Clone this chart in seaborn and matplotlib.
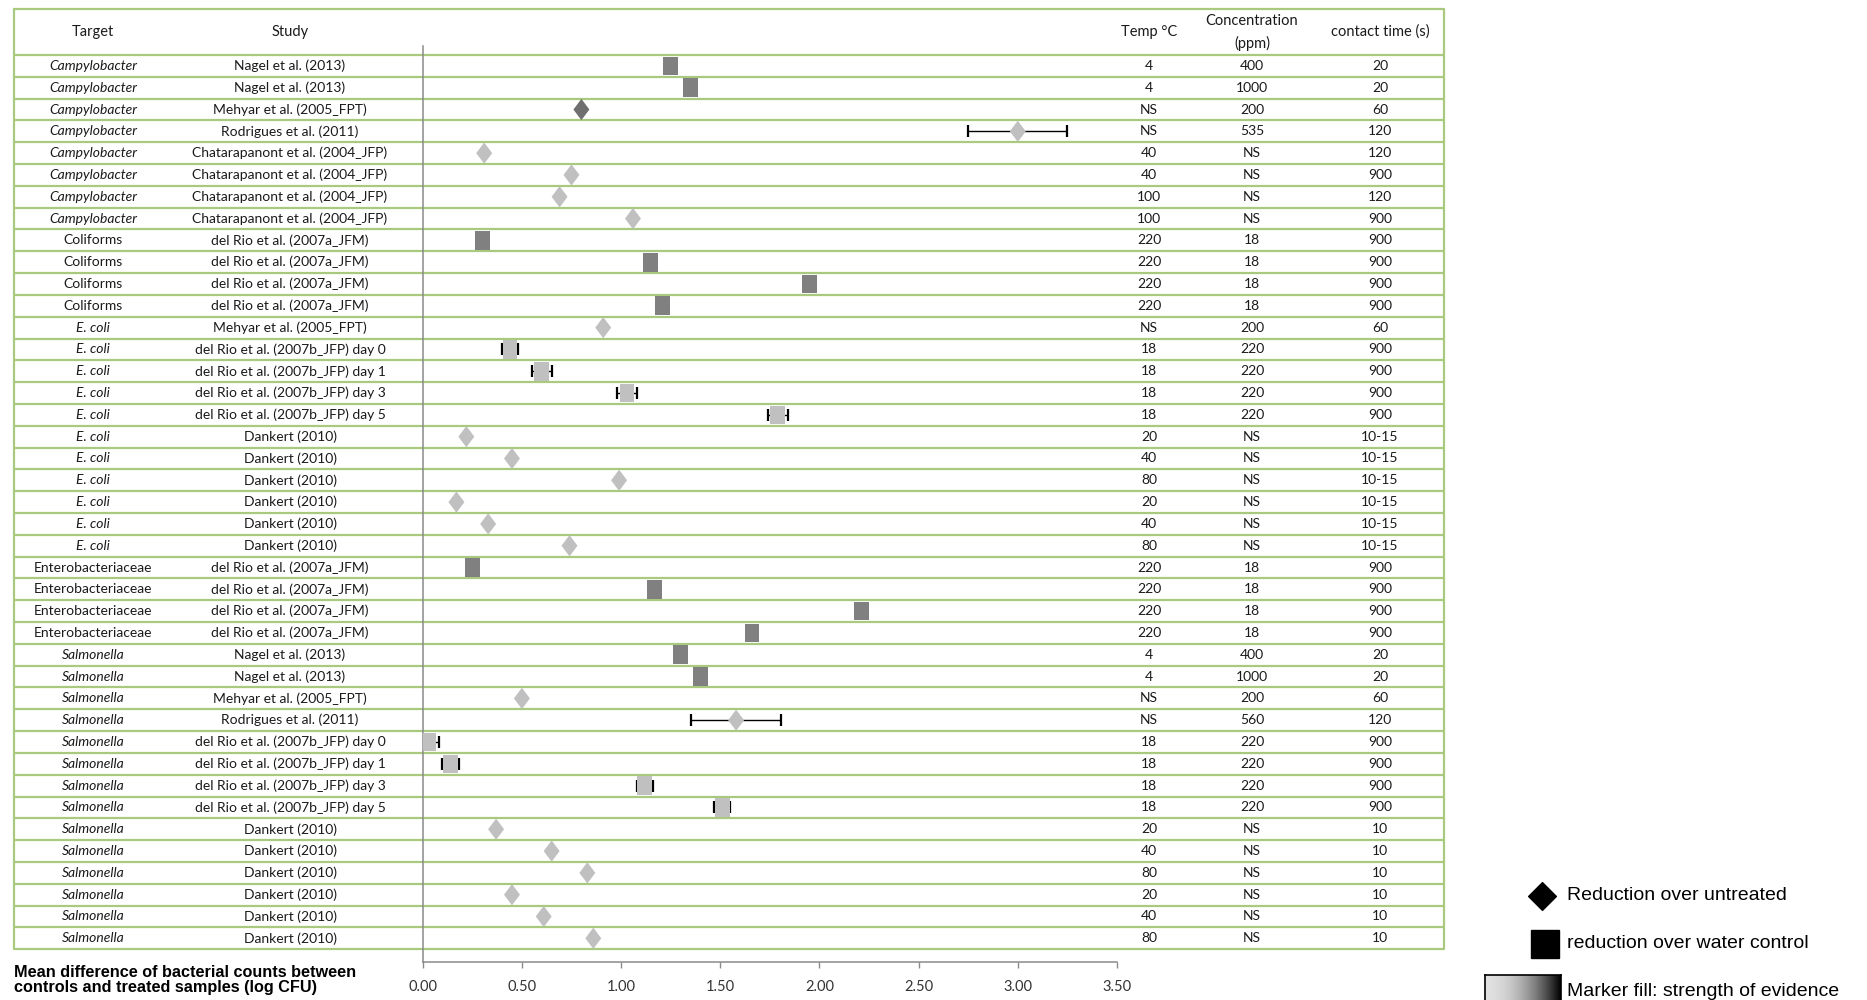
import numpy as np
import pandas as pd
import matplotlib
matplotlib.use("Agg")
import matplotlib.pyplot as plt
import seaborn as sns
from matplotlib.path import Path
from matplotlib import transforms, font_manager

# ---- data -------------------------------------------------------------
targets = (["Campylobacter"] * 8 + ["Coliforms"] * 4 + ["E. coli"] * 11
           + ["Enterobacteriaceae"] * 4 + ["Salmonella"] * 14)

studies = (
    ["Nagel et al. (2013)", "Nagel et al. (2013)", "Mehyar et al. (2005_FPT)",
     "Rodrigues et al. (2011)"]
    + ["Chatarapanont et al. (2004_JFP)"] * 4
    + ["del Rio et al. (2007a_JFM)"] * 4
    + ["Mehyar et al. (2005_FPT)"]
    + ["del Rio et al. (2007b_JFP) day 0", "del Rio et al. (2007b_JFP) day 1",
       "del Rio et al. (2007b_JFP) day 3", "del Rio et al. (2007b_JFP) day 5"]
    + ["Dankert (2010)"] * 6
    + ["del Rio et al. (2007a_JFM)"] * 4
    + ["Nagel et al. (2013)", "Nagel et al. (2013)", "Mehyar et al. (2005_FPT)",
       "Rodrigues et al. (2011)"]
    + ["del Rio et al. (2007b_JFP) day 0", "del Rio et al. (2007b_JFP) day 1",
       "del Rio et al. (2007b_JFP) day 3", "del Rio et al. (2007b_JFP) day 5"]
    + ["Dankert (2010)"] * 6
)

temp_c = (["4", "4", "NS", "NS", "40", "40", "100", "100"]
          + ["220"] * 4
          + ["NS", "18", "18", "18", "18", "20", "40", "80", "20", "40", "80"]
          + ["220"] * 4
          + ["4", "4", "NS", "NS", "18", "18", "18", "18",
             "20", "40", "80", "20", "40", "80"])

conc_ppm = (["400", "1000", "200", "535", "NS", "NS", "NS", "NS"]
            + ["18"] * 4
            + ["200", "220", "220", "220", "220"] + ["NS"] * 6
            + ["18"] * 4
            + ["400", "1000", "200", "560", "220", "220", "220", "220"]
            + ["NS"] * 6)

contact_s = (["20", "20", "60", "120", "120", "900", "120", "900"]
             + ["900"] * 4
             + ["60", "900", "900", "900", "900"] + ["10-15"] * 6
             + ["900"] * 4
             + ["20", "20", "60", "120", "900", "900", "900", "900"]
             + ["10"] * 6)

reduction = [1.25, 1.35, 0.80, 3.00, 0.31, 0.75, 0.69, 1.06,
             0.30, 1.15, 1.95, 1.21,
             0.91, 0.44, 0.60, 1.03, 1.79, 0.22, 0.45, 0.99, 0.17, 0.33, 0.74,
             0.25, 1.17, 2.21, 1.66,
             1.30, 1.40, 0.50, 1.58, 0.03, 0.14, 1.12, 1.51,
             0.37, 0.65, 0.83, 0.45, 0.61, 0.86]

reduction_err = [0, 0, 0, 0.25, 0, 0, 0, 0,
                 0, 0, 0, 0,
                 0, 0.04, 0.05, 0.05, 0.05, 0, 0, 0, 0, 0, 0,
                 0, 0, 0, 0,
                 0, 0, 0, 0.225, 0.05, 0.045, 0.04, 0.04,
                 0, 0, 0, 0, 0, 0]

comparison = (["water", "water", "untreated", "untreated"] + ["untreated"] * 4
              + ["water"] * 4
              + ["untreated"] + ["water"] * 4 + ["untreated"] * 6
              + ["water"] * 4
              + ["water", "water", "untreated", "untreated"] + ["water"] * 4
              + ["untreated"] * 6)

evidence = (["moderate", "moderate", "high", "low"] + ["low"] * 4
            + ["moderate"] * 4
            + ["low"] * 11
            + ["moderate"] * 4
            + ["moderate", "moderate"] + ["low"] * 12)

italic_targets = {"Campylobacter", "E. coli", "Salmonella"}

x_ticks = [0.0, 0.5, 1.0, 1.5, 2.0, 2.5, 3.0, 3.5]

df = pd.DataFrame({
    "target": targets, "study": studies, "temp": temp_c, "conc": conc_ppm,
    "time": contact_s, "reduction": reduction, "err": reduction_err,
    "comparison": comparison, "evidence": evidence,
})
df["row"] = np.arange(len(df))

# ---- style ------------------------------------------------------------
sns.set_theme(style="ticks")
plt.rcParams["font.family"] = ["Lato", "DejaVu Sans"]

installed = {f.name for f in font_manager.fontManager.ttflist}
if "Liberation Sans Narrow" in installed:
    label_font, label_size = ["Liberation Sans Narrow", "DejaVu Sans"], 13
else:
    label_font, label_size = ["Liberation Sans", "DejaVu Sans"], 11.7

W, H = 1867, 1000
fig = plt.figure(figsize=(W / 100, H / 100), dpi=100)
fig.patch.set_facecolor("white")

# pixel canvas holding the table grid and the legend
tab = fig.add_axes([0, 0, 1, 1])
tab.set_xlim(0, W)
tab.set_ylim(H, 0)
tab.axis("off")

# forest-plot axes
ax_left, ax_right, ax_top, ax_bottom = 422.7, 1117.0, 46.0, 962.0
ax = fig.add_axes([ax_left / W, 1 - ax_bottom / H,
                   (ax_right - ax_left) / W, (ax_bottom - ax_top) / H])
ax.patch.set_alpha(0)

row0, row_h = 65.9, 21.81
ax.set_xlim(0, 3.5)
ax.set_ylim((ax_bottom - row0) / row_h, (ax_top - row0) / row_h)

# markers: slim diamond (untreated) and upright rectangle (water control)
diamond = Path([(0, 1), (0.75, 0), (0, -1), (-0.75, 0), (0, 1)],
               [Path.MOVETO, Path.LINETO, Path.LINETO, Path.LINETO, Path.CLOSEPOLY])
rect = Path([(-0.8, -1), (0.8, -1), (0.8, 1), (-0.8, 1), (-0.8, -1)],
            [Path.MOVETO, Path.LINETO, Path.LINETO, Path.LINETO, Path.CLOSEPOLY])

fill = {"high": "#6f6f6f", "moderate": "#808080", "low": "#c0c0c0"}

eb = df[df["err"] > 0]
ax.errorbar(eb["reduction"], eb["row"], xerr=eb["err"], fmt="none",
            ecolor="black", elinewidth=1.0, capsize=4, capthick=1.6, zorder=2)

sns.scatterplot(data=df, x="reduction", y="row", hue="evidence",
                style="comparison", size="comparison",
                markers={"untreated": diamond, "water": rect},
                sizes={"untreated": 235, "water": 180},
                palette=fill, linewidth=0, edgecolor="none",
                legend=False, zorder=3, ax=ax)

ax.set_ylim((ax_bottom - row0) / row_h, (ax_top - row0) / row_h)
ax.set_yticks([])
ax.set_ylabel("")
ax.set_xticks(x_ticks)
ax.set_xticklabels([f"{v:.2f}" for v in x_ticks])
for side in ("top", "right"):
    ax.spines[side].set_visible(False)
for side in ("left", "bottom"):
    ax.spines[side].set_color("#8a8a8a")
    ax.spines[side].set_linewidth(1.1)
ax.tick_params(axis="x", direction="out", length=4, width=1.0, color="#8a8a8a",
               pad=9, labelsize=10.5, labelcolor="#333333")

ax.set_xlabel("Mean difference of bacterial counts between\n"
              "controls and treated samples (log CFU)",
              fontsize=label_size, fontweight="bold", family=label_font,
              linespacing=0.95, color="black")
ax.xaxis.label.set_ha("left")
ax.xaxis.label.set_va("center")
ax.xaxis.set_label_coords((14 - ax_left) / (ax_right - ax_left),
                          -(980 - ax_bottom) / (ax_bottom - ax_top))

# ---- table ------------------------------------------------------------
rows = transforms.blended_transform_factory(tab.transData, ax.transData)
green = "#a9c97e"
tab_l, tab_r, tab_top = 14, 1444, 9.3
n = len(df)

tab.hlines(np.arange(n + 1) - 0.5, tab_l, tab_r, transform=rows,
           colors=green, linewidth=1.6, zorder=1)
tab.plot([tab_l, tab_r], [tab_top, tab_top], color=green, lw=1.6, zorder=1)
bottom_px = row0 + row_h * (n - 0.5)
tab.plot([tab_l, tab_l], [tab_top, bottom_px], color=green, lw=1.6, zorder=1)
tab.plot([tab_r, tab_r], [tab_top, bottom_px], color=green, lw=1.6, zorder=1)

col_x = {"target": 93, "study": 290, "temp": 1149, "conc": 1252, "time": 1380}
txt_kw = dict(ha="center", va="center", fontsize=10, color="#1a1a1a")

for _, r in df.iterrows():
    tab.text(col_x["target"], r["row"], r["target"], transform=rows,
             style="italic" if r["target"] in italic_targets else "normal", **txt_kw)
    tab.text(col_x["study"], r["row"], r["study"], transform=rows, **txt_kw)
    tab.text(col_x["temp"], r["row"], r["temp"], transform=rows, **txt_kw)
    tab.text(col_x["conc"], r["row"], r["conc"], transform=rows, **txt_kw)
    tab.text(col_x["time"], r["row"], r["time"], transform=rows, **txt_kw)

hdr_kw = dict(ha="center", va="center", fontsize=10.5, color="#1a1a1a")
tab.text(col_x["target"], 32, "Target", **hdr_kw)
tab.text(col_x["study"], 32, "Study", **hdr_kw)
tab.text(col_x["temp"], 32, "Temp °C", **hdr_kw)
tab.text(col_x["conc"], 21, "Concentration", **hdr_kw)
tab.text(col_x["conc"], 43, "(ppm)", **hdr_kw)
tab.text(col_x["time"], 32, "contact time (s)", **hdr_kw)

# ---- legend -----------------------------------------------------------
leg_font = ["Liberation Sans", "DejaVu Sans"]
square_diamond = Path([(0, 1), (1, 0), (0, -1), (-1, 0), (0, 1)],
                      [Path.MOVETO, Path.LINETO, Path.LINETO, Path.LINETO, Path.CLOSEPOLY])
tab.plot([1542], [896], marker=square_diamond, ms=20, color="black", ls="none")
tab.plot([1545], [944], marker="s", ms=19.5, color="black", ls="none")
tab.text(1567, 896, "Reduction over untreated", ha="left", va="center",
         fontsize=14, family=leg_font, color="black")
tab.text(1567, 944, "reduction over water control", ha="left", va="center",
         fontsize=14, family=leg_font, color="black")
tab.text(1567, 991, "Marker fill: strength of evidence", ha="left", va="center",
         fontsize=14, family=leg_font, color="black")

gax = fig.add_axes([1485 / W, 1 - 1004 / H, 76 / W, 29 / H])
t = np.linspace(0, 1, 200)
gax.imshow((0.88 * (1 - t ** 2))[None, :], cmap="gray", vmin=0, vmax=1,
           aspect="auto", extent=(0, 1, 0, 1))
gax.set_xticks([])
gax.set_yticks([])
for s in gax.spines.values():
    s.set_visible(True)
    s.set_color("black")
    s.set_linewidth(1.2)

fig.savefig("out.png", dpi=100, facecolor="white")
